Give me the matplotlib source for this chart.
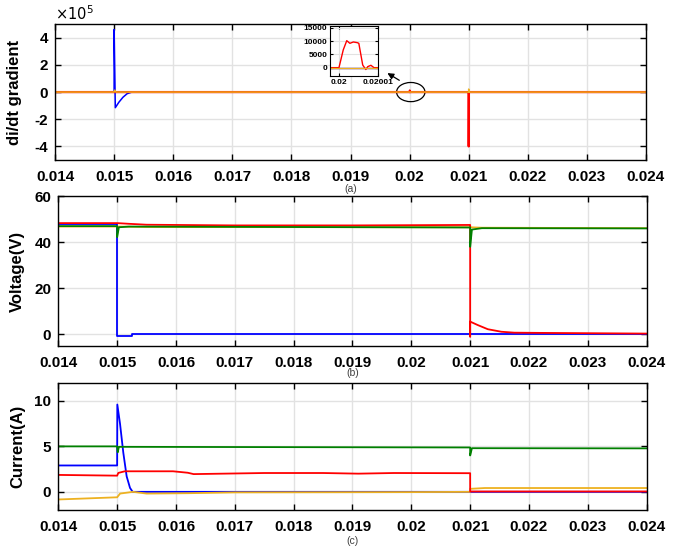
import numpy as np
import matplotlib.pyplot as plt
from matplotlib.patches import Ellipse
from matplotlib.ticker import FuncFormatter

plt.rcParams['font.family'] = ['Liberation Sans', 'DejaVu Sans']
plt.rcParams['axes.unicode_minus'] = False

# time axis ticks
xticks = [0.014, 0.015, 0.016, 0.017, 0.018, 0.019, 0.02, 0.021, 0.022, 0.023, 0.024]
xtick_labels = ['0.014', '0.015', '0.016', '0.017', '0.018', '0.019', '0.02',
                '0.021', '0.022', '0.023', '0.024']

# (a) di/dt gradient
t_blue_a = [0.014, 0.015, 0.015, 0.01502, 0.01508, 0.01515, 0.01522, 0.0153, 0.024]
blue_a = [0, 0, 4.6e5, -1.15e5, -0.75e5, -0.38e5, -0.12e5, 0, 0]
t_red_a = [0.014, 0.02, 0.0200011, 0.0200020, 0.0200028, 0.0200037, 0.0200047, 0.0200051,
           0.0200061, 0.0200069, 0.0200074, 0.0200082, 0.0200090, 0.021, 0.021, 0.021003, 0.024]
red_a = [0, 0, 6700, 10200, 9200, 9700, 9450, 9200, 1000, -700, 400, 900, 0, 0, -4.0e5, 0, 0]
t_orange_a = [0.014, 0.015, 0.01501, 0.01503, 0.021, 0.021, 0.021005, 0.024]
orange_a = [0, 0, 0.14e5, 0, 0, 0.22e5, 0, 0]
t_green_a = [0.014, 0.024]
green_a = [0, 0]

# (b) voltage
t_red_b = [0.014, 0.015, 0.0152, 0.0155, 0.017, 0.019, 0.02098, 0.021, 0.021, 0.021,
           0.02113, 0.0213, 0.02153, 0.02175, 0.0222, 0.024]
red_b = [48.3, 48.3, 48.0, 47.6, 47.3, 47.3, 47.5, 47.5, -1.0, 5.5,
         4.0, 2.2, 1.1, 0.7, 0.6, 0.3]
t_blue_b = [0.014, 0.015, 0.015, 0.01525, 0.01525, 0.024]
blue_b = [48.0, 48.0, -0.9, -0.9, 0, 0]
t_green_b = [0.014, 0.015, 0.015, 0.01503, 0.0152, 0.021, 0.021, 0.02103, 0.0212, 0.024]
green_b = [47.0, 47.0, 42.2, 46.5, 46.8, 46.4, 38.0, 45.5, 46.1, 46.0]
t_orange_b = [0.014, 0.015, 0.0155, 0.021, 0.0212, 0.024]
orange_b = [46.8, 46.8, 46.6, 46.5, 46.3, 46.1]

# (c) current
t_green_c = [0.014, 0.015, 0.01501, 0.01503, 0.021, 0.021, 0.02103, 0.024]
green_c = [5.0, 5.0, 4.35, 4.95, 4.88, 4.0, 4.8, 4.78]
t_blue_c = [0.014, 0.015, 0.015003, 0.015049, 0.015105, 0.015162, 0.015219, 0.015264, 0.024]
blue_c = [2.9, 2.9, 9.6, 7.5, 4.3, 1.7, 0.43, 0, 0]
t_red_c = [0.014, 0.015, 0.01502, 0.01513, 0.01595, 0.0162, 0.0163, 0.0175, 0.0185,
           0.0191, 0.0197, 0.021, 0.021, 0.024]
red_c = [1.86, 1.78, 2.08, 2.26, 2.26, 2.1, 1.95, 2.07, 2.07, 2.0, 2.07, 2.05, 0.04, 0.04]
t_orange_c = [0.014, 0.015, 0.01505, 0.01527, 0.0155, 0.0162, 0.017, 0.02, 0.021, 0.021,
              0.02125, 0.024]
orange_c = [-0.84, -0.6, -0.19, 0, -0.19, -0.15, -0.06, -0.03, 0.0, 0.33, 0.42, 0.42]

BLUE = '#0000ff'
RED = '#ff0000'
GREEN = '#008000'
ORANGE = '#edb120'


def style(ax):
    ax.set_xlim(0.014, 0.024)
    ax.set_xticks(xticks)
    ax.set_xticklabels(xtick_labels)
    ax.grid(True, color='#e2e2e2', lw=1.0)
    ax.set_axisbelow(True)
    ax.tick_params(direction='in', top=True, right=True, length=4, width=1,
                   labelsize=11)
    ax.tick_params(axis='x', pad=7)
    ax.tick_params(axis='y', pad=5)
    for lab in ax.get_xticklabels() + ax.get_yticklabels():
        lab.set_fontweight('bold')
    for sp in ax.spines.values():
        sp.set_linewidth(1.0)


fig = plt.figure(figsize=(6.94, 5.48), dpi=100)

# ---- (a)
ax1 = fig.add_axes([0.0793, 0.708, 0.8515, 0.248])
ax1.plot(t_blue_a, blue_a, color=BLUE, lw=1.1)
ax1.plot(t_green_a, green_a, color=GREEN, lw=1.1)
ax1.plot(t_red_a, red_a, color=RED, lw=1.6)
ax1.plot(t_orange_a, orange_a, color=ORANGE, lw=1.1)
ax1.set_ylim(-5e5, 5e5)
ax1.set_yticks([-4e5, -2e5, 0, 2e5, 4e5])
ax1.yaxis.set_major_formatter(FuncFormatter(lambda v, p: '%d' % round(v / 1e5)))
style(ax1)
ax1.set_ylabel('di/dt gradient', fontsize=12, fontweight='bold')
ax1.yaxis.set_label_coords(-0.056, 0.5)
ax1.text(0.0, 1.005, r'$\times10^5$', transform=ax1.transAxes, fontsize=10.5,
         ha='left', va='bottom')
ax1.text(0.5, -0.213, '(a)', transform=ax1.transAxes, fontsize=7.5, color='#404040',
         ha='center', va='center')
ax1.add_patch(Ellipse((0.02002, 0), 0.00048, 1.41e5, fill=False, ec='black', lw=0.9))
ax1.annotate('', xy=(0.019584, 1.5e5), xytext=(0.019866, 0.76e5),
             arrowprops=dict(arrowstyle='-|>', color='black', lw=0.9, mutation_scale=9))

# inset
axi = fig.add_axes([0.4755, 0.8613, 0.0696, 0.0913])
axi.plot(t_blue_a, blue_a, color=BLUE, lw=1.0)
axi.plot(t_red_a, red_a, color=RED, lw=1.0)
axi.plot(t_orange_a, orange_a, color=ORANGE, lw=1.0)
axi.set_xlim(0.0199977, 0.0200101)
axi.set_ylim(-3150, 15750)
axi.set_xticks([0.02, 0.02001])
axi.set_xticklabels(['0.02', '0.02001'])
axi.set_yticks([0, 5000, 10000, 15000])
axi.set_yticklabels(['0', '5000', '10000', '15000'])
axi.grid(True, color='#e2e2e2', lw=0.8)
axi.tick_params(direction='in', top=True, right=True, length=2, labelsize=6, pad=2)
for lab in axi.get_xticklabels() + axi.get_yticklabels():
    lab.set_fontweight('bold')

# ---- (b)
ax2 = fig.add_axes([0.084, 0.369, 0.8478, 0.273])
ax2.plot(t_blue_b, blue_b, color=BLUE, lw=1.3)
ax2.plot(t_orange_b, orange_b, color=ORANGE, lw=1.3)
ax2.plot(t_red_b, red_b, color=RED, lw=1.3)
ax2.plot(t_green_b, green_b, color=GREEN, lw=1.3)
ax2.set_ylim(-5, 60)
ax2.set_yticks([0, 20, 40, 60])
style(ax2)
ax2.set_ylabel('Voltage(V)', fontsize=12, fontweight='bold')
ax2.yaxis.set_label_coords(-0.0566, 0.5)
ax2.text(0.5, -0.182, '(b)', transform=ax2.transAxes, fontsize=7.5, color='#404040',
         ha='center', va='center')

# ---- (c)
ax3 = fig.add_axes([0.084, 0.0693, 0.8478, 0.2323])
ax3.plot(t_blue_c, blue_c, color=BLUE, lw=1.3)
ax3.plot(t_orange_c, orange_c, color=ORANGE, lw=1.3)
ax3.plot(t_red_c, red_c, color=RED, lw=1.3)
ax3.plot(t_green_c, green_c, color=GREEN, lw=1.3)
ax3.set_ylim(-2, 12)
ax3.set_yticks([0, 5, 10])
style(ax3)
ax3.set_ylabel('Current(A)', fontsize=12, fontweight='bold')
ax3.yaxis.set_label_coords(-0.0566, 0.5)
ax3.text(0.5, -0.243, '(c)', transform=ax3.transAxes, fontsize=7.5, color='#404040',
         ha='center', va='center')

fig.savefig('out.png', dpi=100)
